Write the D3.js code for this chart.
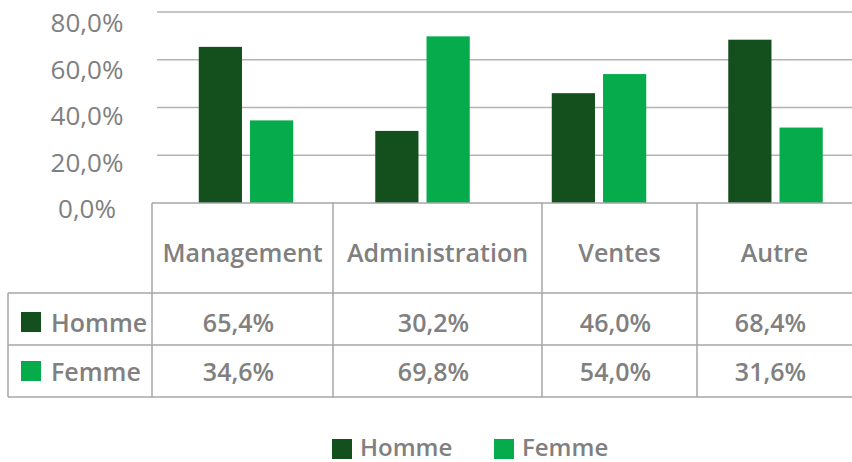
<!DOCTYPE html>
<html>
<head>
<meta charset="utf-8">
<script src="https://cdn.jsdelivr.net/npm/d3@7"></script>
<style>
  body { margin: 0; background: #fff; }
  text { font-family: "Open Sans", sans-serif; fill: #808080; }
</style>
</head>
<body>
<div id="chart"></div>
<script>
// données
const categories = ["Management", "Administration", "Ventes", "Autre"];
const series = ["Homme", "Femme"];
const homme = [65.4, 30.2, 46.0, 68.4];
const femme = [34.6, 69.8, 54.0, 31.6];
const yTicks = [0, 20, 40, 60, 80];

const colors = { Homme: "#14501e", Femme: "#06ab4b" };
const fmt = v => v.toFixed(1).replace(".", ",") + "%";

const width = 852, height = 462;
const svg = d3.select("#chart").append("svg")
  .attr("width", width).attr("height", height);

const x = d3.scaleBand().domain(categories).range([157.75, 863.75]);
const x1 = d3.scaleBand().domain(series).range([0, x.bandwidth()])
  .paddingInner(0.157).paddingOuter(0.8);
const y = d3.scaleLinear().domain([0, 80]).range([203, 12]);
// les étiquettes de l'axe ne tombent pas exactement sur les lignes
const yLabel = d3.scaleLinear().domain([0, 80]).range([218, 32]);

// grille
svg.append("g").selectAll("line")
  .data(yTicks.filter(d => d > 0))
  .join("line")
  .attr("x1", 157).attr("x2", width)
  .attr("y1", d => y(d)).attr("y2", d => y(d))
  .attr("stroke", "#b3b3b3").attr("stroke-width", 1.5);

svg.append("g").selectAll("text")
  .data(yTicks)
  .join("text")
  .attr("x", 87)
  .attr("y", d => yLabel(d))
  .attr("text-anchor", "middle")
  .style("font-size", "26px")
  .text(d => fmt(d));

// barres
const rows = categories.map((c, i) => ({ cat: c, Homme: homme[i], Femme: femme[i] }));
svg.append("g").selectAll("g")
  .data(rows)
  .join("g")
  .attr("transform", d => `translate(${x(d.cat)},0)`)
  .selectAll("rect")
  .data(d => series.map(s => ({ s, v: d[s] })))
  .join("rect")
  .attr("x", d => x1(d.s))
  .attr("width", x1.bandwidth())
  .attr("y", d => y(d.v))
  .attr("height", d => y(0) - y(d.v))
  .attr("fill", d => colors[d.s]);

// tableau de données
const colEdges = [152, 333, 542, 697, 852];
const rowEdges = [203, 293, 345, 397];
const grid = svg.append("g").attr("stroke", "#a6a6a6").attr("stroke-width", 1.5);
grid.append("line").attr("x1", 152).attr("x2", width).attr("y1", rowEdges[0]).attr("y2", rowEdges[0]);
[rowEdges[1], rowEdges[2], rowEdges[3]].forEach(yy =>
  grid.append("line").attr("x1", 8).attr("x2", width).attr("y1", yy).attr("y2", yy));
colEdges.slice(0, 4).forEach(xx =>
  grid.append("line").attr("x1", xx).attr("x2", xx).attr("y1", rowEdges[0]).attr("y2", rowEdges[3]));
grid.append("line").attr("x1", 8).attr("x2", 8).attr("y1", rowEdges[1]).attr("y2", rowEdges[3]);

const colCenter = i => (colEdges[i] + colEdges[i + 1]) / 2;

svg.append("g").selectAll("text")
  .data(categories)
  .join("text")
  .attr("x", (d, i) => colCenter(i))
  .attr("y", 262)
  .attr("text-anchor", "middle")
  .style("font-size", "25px").style("font-weight", 600)
  .text(d => d);

const tableRows = [{ s: "Homme", vals: homme, base: 332 }, { s: "Femme", vals: femme, base: 381 }];
tableRows.forEach(r => {
  svg.append("rect")
    .attr("x", 21).attr("y", r.base - 20)
    .attr("width", 20).attr("height", 20)
    .attr("fill", colors[r.s]);
  svg.append("text")
    .attr("x", 51).attr("y", r.base)
    .style("font-size", "25px").style("font-weight", 600)
    .text(r.s);
  svg.append("g").selectAll("text")
    .data(r.vals)
    .join("text")
    .attr("x", (d, i) => colCenter(i) - 4)
    .attr("y", r.base)
    .attr("text-anchor", "middle")
    .style("font-size", "25px").style("font-weight", 600)
    .text(d => fmt(d));
});

// légende
const legendX = [332, 494];
series.forEach((s, i) => {
  svg.append("rect")
    .attr("x", legendX[i]).attr("y", 439)
    .attr("width", 20).attr("height", 20)
    .attr("fill", colors[s]);
  svg.append("text")
    .attr("x", legendX[i] + 28).attr("y", 456)
    .style("font-size", "24px").style("font-weight", 600)
    .text(s);
});
</script>
</body>
</html>
